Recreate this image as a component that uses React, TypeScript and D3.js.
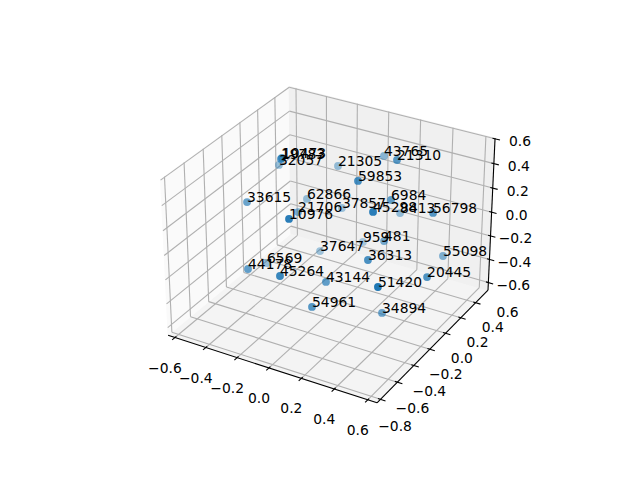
import React from "react";
import * as d3 from "d3";

const xLim = [-0.645, 0.655];
const yLim = [-0.64, 0.77];
const zLim = [-0.666, 0.605];
const xTicks = [-0.6, -0.4, -0.2, 0, 0.2, 0.4, 0.6];
const yTicks = [-0.8, -0.6, -0.4, -0.2, 0, 0.2, 0.4, 0.6];
const zTicks = [-0.6, -0.4, -0.2, 0, 0.2, 0.4, 0.6];

const pointLabels = ["19783", "10473", "32057", "33615", "62866", "21706", "10976", "21305", "43765", "21310", "59853", "6984", "37857", "45298", "8413", "56798", "37647", "6569", "44178", "45264", "43144", "54961", "959", "481", "36313", "51420", "20445", "55098", "34894"];
const xValues = [-0.241, -0.243, -0.557, -0.438, -0.371, -0.29, 0.102, -0.266, -0.004, 0.298, 0.235, 0.284, -0.236, 0.465, 0.106, 0.544, -0.282, -0.475, -0.288, 0.064, 0.092, 0.113, -0.133, 0.213, 0.355, 0.627, 0.63, 0.468, 0.349];
const yValues = [-0.051, -0.036, 0.481, -0.092, 0.476, 0.223, -0.58, 0.66, 0.726, 0.277, -0.061, 0.241, 0.653, -0.336, 0.724, 0.229, 0.468, 0.181, -0.352, -0.617, -0.157, -0.357, 0.725, 0.306, -0.171, -0.592, -0.009, 0.543, 0.02];
const zValues = [0.58, 0.579, 0.13, 0.187, -0.09, -0.025, 0.534, 0.123, 0.261, 0.577, 0.578, 0.272, -0.221, 0.578, -0.181, 0.269, -0.502, -0.504, -0.151, 0.096, -0.231, -0.301, -0.522, -0.13, 0.06, 0.217, -0.072, -0.303, -0.501];

const W = 640, H = 480;
const el = (30 * Math.PI) / 180, az = (-60 * Math.PI) / 180, dist = 10;
const boxNorm = Math.hypot(4, 4, 3);
const k = (1.8294640721620434 * 25) / 24 / boxNorm;
const box = [4 * k, 4 * k, 3 * k];
const sx0 = d3.scaleLinear().domain(xLim).range([0, box[0]]);
const sy0 = d3.scaleLinear().domain(yLim).range([0, box[1]]);
const sz0 = d3.scaleLinear().domain(zLim).range([0, box[2]]);
const E = [Math.cos(el) * Math.cos(az), Math.cos(el) * Math.sin(az), Math.sin(el)];
const R = box.map((b) => b / 2);
const eye = [R[0] + dist * E[0], R[1] + dist * E[1], R[2] + dist * E[2]];
const cross = (a: number[], b: number[]) => [a[1] * b[2] - a[2] * b[1], a[2] * b[0] - a[0] * b[2], a[0] * b[1] - a[1] * b[0]];
const dot = (a: number[], b: number[]) => a[0] * b[0] + a[1] * b[1] + a[2] * b[2];
const w = E;
const uu = cross([0, 0, 1], w);
const un = Math.hypot(uu[0], uu[1], uu[2]);
const u = uu.map((v) => v / un);
const v = cross(w, u);
const sxPix = d3.scaleLinear().domain([-0.095, 0.095]).range([331 - 191, 331 + 191]);
const syPix = d3.scaleLinear().domain([-0.09, 0.09]).range([237.1 + 179, 237.1 - 179]);
const depthAlpha = d3.scaleLinear().domain([-10.75, -9.25]).range([0.3, 1]).clamp(true);
function project(x: number, y: number, z: number) {
  const p = [sx0(x) - eye[0], sy0(y) - eye[1], sz0(z) - eye[2]];
  const cx = dot(p, u), cy = dot(p, v), cz = dot(p, w);
  return [sxPix(cx / -cz), syPix(cy / -cz), cz];
}

const X0 = xLim[0], X1 = xLim[1], Y0 = yLim[0], Y1 = yLim[1], Z0 = zLim[0], Z1 = zLim[1];
const poly = (pts: number[][]) => pts.map((p) => project(p[0], p[1], p[2])).map((p) => `${p[0]},${p[1]}`).join(" ");
const fmt = (t: number) => (t < 0 ? "\u2212" : "") + Math.abs(t).toFixed(1);
const font = "DejaVu Sans";
const LW = 1.11;

export default function App() {
  const lines: any[] = [];
  const labels: any[] = [];
  const L = (a: number[], b: number[], c: string, sw: number, key: string) => {
    const p = project(a[0], a[1], a[2]), q = project(b[0], b[1], b[2]);
    lines.push(<line key={key + lines.length} x1={p[0]} y1={p[1]} x2={q[0]} y2={q[1]} stroke={c} strokeWidth={sw} />);
  };
  const T = (pos: number[], dx: number, dy: number, s: string) => {
    const p = project(pos[0], pos[1], pos[2]);
    labels.push(<text key={"t" + labels.length} x={p[0] + dx} y={p[1] + dy} textAnchor="middle" dominantBaseline="central" fontFamily={font} fontSize={13.89}>{s}</text>);
  };
  xTicks.forEach((t) => { L([t, Y0, Z0], [t, Y1, Z0], "#b0b0b0", LW, "g"); L([t, Y1, Z0], [t, Y1, Z1], "#b0b0b0", LW, "g"); });
  yTicks.filter((t) => t >= Y0).forEach((t) => { L([X0, t, Z0], [X1, t, Z0], "#b0b0b0", LW, "g"); L([X0, t, Z0], [X0, t, Z1], "#b0b0b0", LW, "g"); });
  zTicks.forEach((t) => { L([X0, Y0, t], [X0, Y1, t], "#b0b0b0", LW, "g"); L([X0, Y1, t], [X1, Y1, t], "#b0b0b0", LW, "g"); });
  L([X0, Y0, Z0], [X1, Y0, Z0], "#000", LW, "a");
  L([X1, Y0, Z0], [X1, Y1, Z0], "#000", LW, "a");
  L([X1, Y1, Z0], [X1, Y1, Z1], "#000", LW, "a");
  xTicks.forEach((t) => { L([t, Y0 + 0.015, Z0], [t, Y0 - 0.03, Z0], "#000", LW, "t"); T([t, Y0, Z0], -10, 30, fmt(t)); });
  yTicks.forEach((t) => { if (t >= Y0) L([X1 - 0.015, t, Z0], [X1 + 0.03, t, Z0], "#000", LW, "t"); T([X1, t, Z0], 32, 9, fmt(t)); });
  zTicks.forEach((t) => { L([X1 - 0.015, Y1, t], [X1 + 0.03, Y1, t], "#000", LW, "t"); T([X1, Y1, t], 25, 2.5, fmt(t)); });
  const projected = pointLabels.map((s, i) => {
    const p = project(xValues[i], yValues[i], zValues[i]);
    return { s, px: p[0], py: p[1], cz: p[2] };
  });
  const byDepth = [...projected].sort((a, b) => d3.ascending(a.cz, b.cz));
  return (
    <svg width={W} height={H} style={{ position: "absolute", left: 0, top: 0 }}>
      <rect width={W} height={H} fill="#fff" />
      <polygon points={poly([[X0, Y0, Z0], [X1, Y0, Z0], [X1, Y1, Z0], [X0, Y1, Z0]])} fill="#f4f4f4" stroke="#f4f4f4" />
      <polygon points={poly([[X0, Y0, Z0], [X0, Y1, Z0], [X0, Y1, Z1], [X0, Y0, Z1]])} fill="#fafafa" stroke="#fafafa" />
      <polygon points={poly([[X0, Y1, Z0], [X1, Y1, Z0], [X1, Y1, Z1], [X0, Y1, Z1]])} fill="#f0f0f0" stroke="#f0f0f0" />
      {lines}
      {labels}
      {byDepth.map((d) => (
        <circle key={d.s} cx={d.px} cy={d.py} r={3.9} fill="#1f77b4" fillOpacity={depthAlpha(d.cz)} />
      ))}
      {projected.map((d) => (
        <text key={"l" + d.s} x={d.px} y={d.py} fontFamily={font} fontSize={13.89} fill="#000">{d.s}</text>
      ))}
    </svg>
  );
}
